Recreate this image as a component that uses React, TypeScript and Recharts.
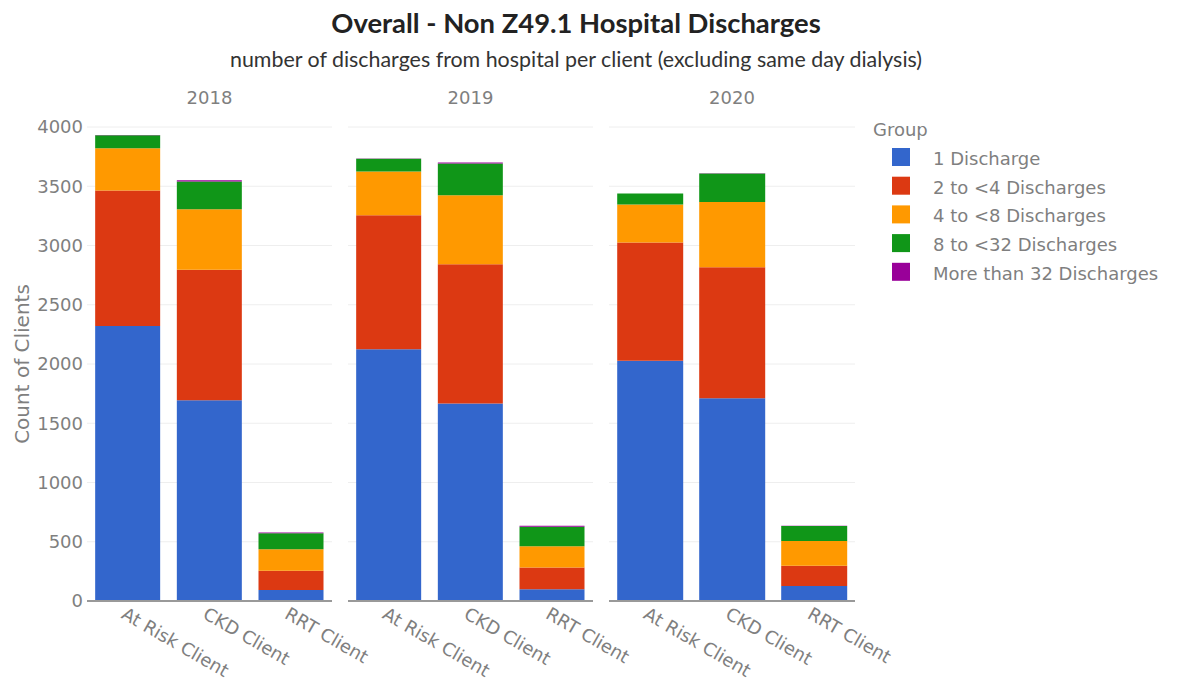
import React from "react";
import { BarChart, Bar, XAxis, YAxis, CartesianGrid } from "recharts";

const years = ["2018", "2019", "2020"];
const categories = ["At Risk Client", "CKD Client", "RRT Client"];
const groups = [
  "1 Discharge",
  "2 to <4 Discharges",
  "4 to <8 Discharges",
  "8 to <32 Discharges",
  "More than 32 Discharges",
];
const colors = ["#3366CC", "#DC3912", "#FF9900", "#109618", "#990099"];

// one row per year, one value per category
const oneDischarge = [
  [2320, 1695, 93],
  [2125, 1667, 100],
  [2027, 1710, 126],
];
const twoToFour = [
  [1145, 1100, 163],
  [1130, 1175, 183],
  [998, 1107, 172],
];
const fourToEight = [
  [355, 510, 180],
  [370, 582, 180],
  [320, 550, 208],
];
const eightTo32 = [
  [110, 235, 135],
  [107, 267, 163],
  [93, 240, 126],
];
const over32 = [
  [3, 10, 8],
  [2, 10, 8],
  [1, 3, 2],
];
const yTicks = [0, 500, 1000, 1500, 2000, 2500, 3000, 3500, 4000];

const seriesValues = [oneDischarge, twoToFour, fourToEight, eightTo32, over32];
const keys = ["g0", "g1", "g2", "g3", "g4"];

// plot areas: 87-332, 348-593, 609-855
const panels = [
  { left: 0, width: 332, yAxis: true },
  { left: 348, width: 245, yAxis: false },
  { left: 609, width: 246, yAxis: false },
];
const extra = 80; // room on the right for rotated labels

const font = "'DejaVu Sans', sans-serif";
const gray = "#7f7f7f";

function XTick(props: any) {
  const { x, y, payload } = props;
  const tx = x - 1;
  return (
    <text
      x={tx}
      y={y}
      dy="0.74em"
      transform={`rotate(30, ${tx}, ${y})`}
      textAnchor="start"
      fill={gray}
      fontSize={18}
      fontFamily={font}
    >
      {payload.value}
    </text>
  );
}

function Panel(props: { yearIndex: number; left: number; width: number; yAxis: boolean }) {
  const { yearIndex, left, width, yAxis } = props;
  const data = categories.map((c, i) => {
    const row: any = { category: c };
    keys.forEach((k, s) => {
      row[k] = seriesValues[s][yearIndex][i];
    });
    return row;
  });
  return (
    <div style={{ position: "absolute", left, top: 0 }}>
      <BarChart
        width={width + extra}
        height={681}
        data={data}
        margin={{ top: 127, right: extra, bottom: 0, left: 0 }}
        barCategoryGap="10%"
      >
        <CartesianGrid vertical={false} stroke="#eeeeee" />
        <XAxis
          dataKey="category"
          height={80}
          tickLine={false}
          tickSize={0}
          tickMargin={5}
          axisLine={{ stroke: "#999999", strokeWidth: 2 }}
          tick={<XTick />}
          interval={0}
        />
        <YAxis
          hide={!yAxis}
          width={87}
          domain={[0, 4000]}
          ticks={yTicks}
          axisLine={false}
          tickLine={false}
          tickSize={0}
          tickMargin={4}
          tick={{ fill: gray, fontSize: 18, fontFamily: font }}
          label={{
            value: "Count of Clients",
            angle: -90,
            position: "insideLeft",
            offset: 22,
            style: { textAnchor: "middle", fill: gray, fontSize: 20, fontFamily: font },
          }}
        />
        {keys.map((k, s) => (
          <Bar
            key={k}
            dataKey={k}
            stackId="a"
            fill={colors[s]}
            isAnimationActive={false}
          />
        ))}
      </BarChart>
    </div>
  );
}

export default function App() {
  return (
    <div
      style={{
        position: "absolute",
        left: 0,
        top: 0,
        width: 1180,
        height: 681,
        background: "#ffffff",
        overflow: "hidden",
      }}
    >
      <svg width={1180} height={681} style={{ position: "absolute", left: 0, top: 0 }}>
        <text
          x={576}
          y={33}
          textAnchor="middle"
          fontFamily="Lato, sans-serif"
          fontWeight="bold"
          fontSize={27.4}
          fill="#222222"
        >
          Overall - Non Z49.1 Hospital Discharges
        </text>
        <text
          x={576}
          y={67}
          textAnchor="middle"
          fontFamily="Lato, sans-serif"
          fontSize={21.4}
          fill="#333333"
        >
          number of discharges from hospital per client (excluding same day dialysis)
        </text>
        {years.map((yr, i) => (
          <text
            key={yr}
            x={panels[i].left + (i === 0 ? 87 : 0) + (panels[i].width - (i === 0 ? 87 : 0)) / 2}
            y={104}
            textAnchor="middle"
            fontFamily={font}
            fontSize={18}
            fill={gray}
          >
            {yr}
          </text>
        ))}
        <text x={873} y={136} fontFamily={font} fontSize={18} fill={gray}>
          Group
        </text>
        {groups.map((g, i) => (
          <g key={g}>
            <rect x={892} y={148 + i * 28.7} width={18} height={18} fill={colors[i]} />
            <text x={933} y={165 + i * 28.7} fontFamily={font} fontSize={18} fill={gray}>
              {g}
            </text>
          </g>
        ))}
      </svg>
      {panels.map((p, i) => (
        <Panel key={years[i]} yearIndex={i} left={p.left} width={p.width} yAxis={p.yAxis} />
      ))}
    </div>
  );
}
